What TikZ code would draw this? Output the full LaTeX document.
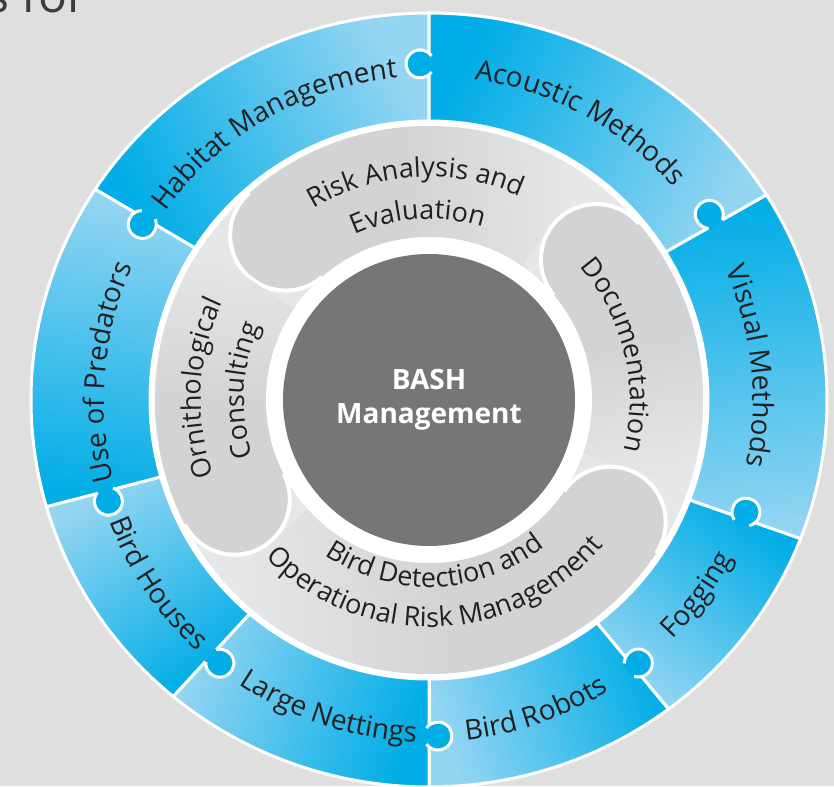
\documentclass[tikz,border=0pt]{standalone}
\usepackage{fontspec}
\setmainfont{Open Sans}
\usetikzlibrary{decorations.text}

\definecolor{bashdark}{RGB}{0,173,230}
\definecolor{bashlight}{RGB}{148,213,242}
\definecolor{ringgray}{RGB}{230,231,232}
\definecolor{pillgray}{RGB}{209,211,213}
\definecolor{coregray}{RGB}{118,118,118}
\definecolor{bggray}{RGB}{223,223,223}
\definecolor{txtdark}{RGB}{35,31,32}
\definecolor{titlegray}{RGB}{60,60,60}

\newcommand{\ringfont}{\fontsize{28}{30}\selectfont}
\newcommand{\pillfont}{\fontsize{27}{30}\selectfont}

\begin{document}
\begin{tikzpicture}[
    x=1pt, y=1pt,
    seg/.style={left color=bashdark, right color=bashlight, draw=white, line width=3pt},
    pill/.style={left color=pillgray, right color=ringgray, middle color=pillgray},
    capline/.style={white, line width=4pt},
    ringtext/.style={decorate, decoration={text along path, text align=center, text color=txtdark, text={|\ringfont|#1}}},
    pilltext/.style={decorate, decoration={text along path, text align=center, text color=txtdark, text={|\pillfont|#1}}},
    knob/.pic={
        \fill[bashdark] (328,-4.5) -- (328,-2.5) arc[start angle=234.85, end angle=-54.85, radius=14] -- (344,-4.5) -- cycle;
        \draw[white, line width=3pt] (328,-2.5) arc[start angle=234.85, end angle=-54.85, radius=14];
    }
]

% frame and backdrop
\useasboundingbox (-429,-386) rectangle (405,400);
\clip (-429,-386) rectangle (405,400);
\fill[bggray] (-429,-386) rectangle (405,400);
\node[anchor=base east, inner sep=0pt, text=titlegray, font=\fontsize{48}{50}\selectfont] (title) at (-342,387) {s for};

% outer ring, dark end first (clockwise)
\shadedraw[seg, shading angle=118.5] (147:398 and 387) arc[start angle=147, end angle=90, x radius=398, y radius=387] -- (90:279) arc[start angle=90, end angle=147, radius=279] -- cycle;
\shadedraw[seg, shading angle=61] (90:398 and 387) arc[start angle=90, end angle=32, x radius=398, y radius=387] -- (32:279) arc[start angle=32, end angle=90, radius=279] -- cycle;
\shadedraw[seg, shading angle=5.5] (32:398 and 387) arc[start angle=32, end angle=-21, x radius=398, y radius=387] -- (-21:279) arc[start angle=-21, end angle=32, radius=279] -- cycle;
\shadedraw[seg, shading angle=-37] (-21:398 and 387) arc[start angle=-21, end angle=-53, x radius=398, y radius=387] -- (-53:279) arc[start angle=-53, end angle=-21, radius=279] -- cycle;
\shadedraw[seg, shading angle=-71.5] (-53:398 and 387) arc[start angle=-53, end angle=-90, x radius=398, y radius=387] -- (-90:279) arc[start angle=-90, end angle=-53, radius=279] -- cycle;
\shadedraw[seg, shading angle=-110] (-90:398 and 387) arc[start angle=-90, end angle=-130, x radius=398, y radius=387] -- (-130:279) arc[start angle=-130, end angle=-90, radius=279] -- cycle;
\shadedraw[seg, shading angle=-147] (-130:398 and 387) arc[start angle=-130, end angle=-164, x radius=398, y radius=387] -- (-164:279) arc[start angle=-164, end angle=-130, radius=279] -- cycle;
\shadedraw[seg, shading angle=-188.5] (-164:398 and 387) arc[start angle=-164, end angle=-213, x radius=398, y radius=387] -- (-213:279) arc[start angle=-213, end angle=-164, radius=279] -- cycle;

% puzzle knobs
\pic[rotate=90] {knob};
\pic[rotate=32] {knob};
\pic[rotate=-21] {knob};
\pic[rotate=-53] {knob};
\pic[rotate=-90] {knob};
\pic[rotate=-130] {knob};
\pic[rotate=-164] {knob};
\pic[rotate=147] {knob};

% inner ring
\fill[white] (0,0) circle (278);
\fill[ringgray] (0,0) circle (274);

\shade[pill, shading angle=93] (131:274) arc[start angle=131, end angle=55, radius=274] -- (55:163) arc[start angle=55, end angle=131, radius=163] arc[start angle=311, end angle=131, radius=55.5] -- cycle;
\draw[capline] (131:163) arc[start angle=311, end angle=131, radius=55.5];
\shade[pill, shading angle=10.5] (40:274) arc[start angle=40, end angle=-19, radius=274] -- (-19:163) arc[start angle=-19, end angle=40, radius=163] arc[start angle=220, end angle=40, radius=55.5] -- cycle;
\draw[capline] (40:163) arc[start angle=220, end angle=40, radius=55.5];
\shade[pill, shading angle=-86] (-34:274) arc[start angle=-34, end angle=-138, radius=274] -- (-138:163) arc[start angle=-138, end angle=-34, radius=163] arc[start angle=146, end angle=-34, radius=55.5] -- cycle;
\draw[capline] (-34:163) arc[start angle=146, end angle=-34, radius=55.5];
\shade[pill, shading angle=176.5] (207:274) arc[start angle=207, end angle=146, radius=274] -- (146:163) arc[start angle=146, end angle=207, radius=163] arc[start angle=387, end angle=207, radius=55.5] -- cycle;
\draw[capline] (207:163) arc[start angle=387, end angle=207, radius=55.5];

\fill[white] (0,0) circle (163);
\node[circle, fill=coregray, minimum size=292pt, inner sep=0pt, text=white, align=center, font=\bfseries\fontsize{28}{34}\selectfont] (core) at (0,0) {BASH\\Management};

% labels on the outer ring
\path[ringtext={Habitat Management}] (160:324) arc[start angle=160, end angle=80, radius=324];
\path[ringtext={Acoustic Methods}] (101.5:324) arc[start angle=101.5, end angle=21.5, radius=324];
\path[ringtext={Visual Methods}] (46:324) arc[start angle=46, end angle=-34, radius=324];
\path[ringtext={Use of Predators}] (215:325) arc[start angle=215, end angle=135, radius=325];
\path[ringtext={Fogging}] (-76:342) arc[start angle=-76, end angle=4, radius=342];
\path[ringtext={Bird Robots}] (-111:342) arc[start angle=-111, end angle=-31, radius=342];
\path[ringtext={Large Nettings}] (-148:342) arc[start angle=-148, end angle=-68, radius=342];
\path[ringtext={Bird Houses}] (-186:342) arc[start angle=-186, end angle=-106, radius=342];

% labels on the inner ring
\path[pilltext={Risk Analysis and}] (153.5:223) arc[start angle=153.5, end angle=33.5, radius=223];
\path[pilltext={Evaluation}] (153.5:181) arc[start angle=153.5, end angle=33.5, radius=181];
\path[pilltext={Documentation}] (73.5:201) arc[start angle=73.5, end angle=-46.5, radius=201];
\path[pilltext={Ornithological}] (237:228) arc[start angle=237, end angle=117, radius=228];
\path[pilltext={Consulting}] (237:185) arc[start angle=237, end angle=117, radius=185];
\path[pilltext={Bird Detection and}] (-158:187) arc[start angle=-158, end angle=-18, radius=187];
\path[pilltext={Operational Risk Management}] (-158:227) arc[start angle=-158, end angle=-18, radius=227];

\end{tikzpicture}
\end{document}
